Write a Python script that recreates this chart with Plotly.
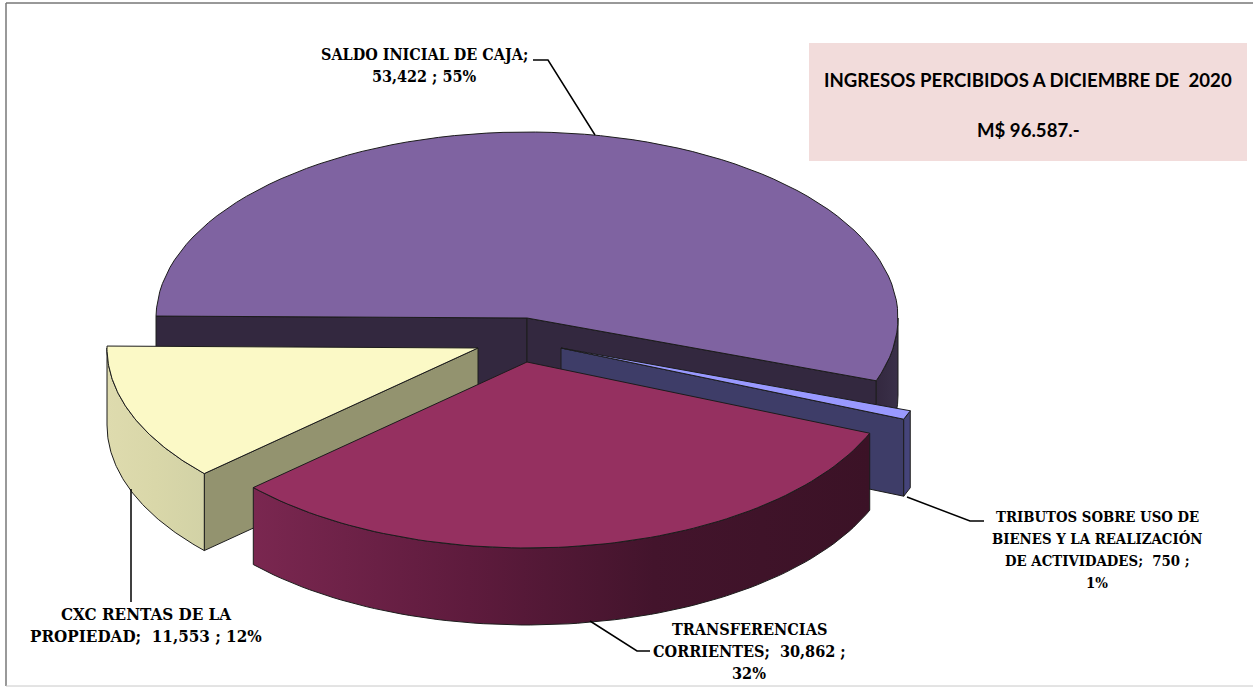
"""Exploded 3D-look pie of 2020 income, drawn as filled polygons on a pixel-sized plot."""

import numpy as np
import plotly.graph_objects as go

WIDTH = 1253
HEIGHT = 687

# chart data
name_lines = [
    ["SALDO INICIAL DE CAJA;"],
    ["TRIBUTOS SOBRE USO DE", "BIENES Y LA REALIZACIÓN", "DE ACTIVIDADES;  "],
    ["TRANSFERENCIAS", "CORRIENTES;  "],
    ["CXC RENTAS DE LA", "PROPIEDAD;  "],
]
values = [53422, 750, 30862, 11553]
pct_on_own_line = [False, True, True, False]
value_on_own_line = [True, False, False, False]
title_lines = ["INGRESOS PERCIBIDOS A DICIEMBRE DE  2020", "M$ 96.587.-"]

# look of each slice
top_colors = ["#7f63a1", "#9999ff", "#953060", "#fbf9c6"]
face_colors = ["#33283f", "#3e3d68", "#3b1226", "#93936f"]
outer_gradients = [
    [[0, "#33283f"], [1, "#3a3049"]],
    [[0, "#45447a"], [1, "#45447a"]],
    [[0, "#7a2750"], [0.35, "#5e1b3d"], [0.65, "#43142c"], [1, "#3b1226"]],
    [[0, "#dedbae"], [0.5, "#d9d7a9"], [1, "#d2d2a6"]],
]
offsets = [(0, 0), (34, 30), (0, 44), (-49, 30)]

CX, CY = 527, 318
RX, RY = 371, 186
DEPTH = 77
START_ANGLE = 179.4
OUTLINE = "#1c1c1c"

# label anchors (centre x, first line y), font sizes and leader elbows
label_pos = [(424, 54), (1097, 516), (749, 629), (146, 614)]
label_sizes = [16.0, 14.8, 16.1, 16.9]
LINE_GAP = 22
leaders = [
    [(595, 135), (548, 60), (533, 60)],
    [(907, 497), (970, 521), (984, 521)],
    [(590, 621), (637, 651), (650, 651)],
    [(131, 489), (131, 602)],
]


def arc(cx, cy, a0, a1, n=80):
    t = np.radians(np.linspace(a0, a1, n))
    return cx + RX * np.cos(t), cy - RY * np.sin(t)


def poly(x, y, color=None, gradient=None, line=OUTLINE):
    kw = {"fillcolor": color} if gradient is None else {
        "fillgradient": {"type": "horizontal", "colorscale": gradient}
    }
    return go.Scatter(
        x=np.r_[x, x[0]],
        y=np.r_[y, y[0]],
        mode="lines",
        fill="toself",
        line={"color": line, "width": 1},
        hoverinfo="skip",
        showlegend=False,
        **kw,
    )


def radial_face(cx, cy, px, py, color):
    return poly(
        np.array([cx, px, px, cx]),
        np.array([cy, py, py + DEPTH, cy + DEPTH]),
        color,
    )


# sweep per slice, clockwise from the start angle
sweeps = 360 * np.array(values) / sum(values)
ends = START_ANGLE - np.cumsum(sweeps)
starts = np.r_[START_ANGLE, ends[:-1]]


def slice_traces(i):
    dx, dy = offsets[i]
    cx, cy = CX + dx, CY + dy
    a0, a1 = starts[i], ends[i]
    ax, ay = arc(cx, cy, a0, a1)
    traces = []
    # cut faces, only those turned towards the viewer
    if np.cos(np.radians(a0)) < 0:
        traces.append(radial_face(cx, cy, ax[0], ay[0], face_colors[i]))
    if np.cos(np.radians(a1)) > 0:
        traces.append(radial_face(cx, cy, ax[-1], ay[-1], face_colors[i]))
    # outer wall, only the part of the rim that faces the viewer
    lo, hi = max(a1, -180), min(a0, 0)
    if hi > lo:
        wx, wy = arc(cx, cy, hi, lo)
        traces.append(
            poly(
                np.r_[wx, wx[::-1]],
                np.r_[wy, wy[::-1] + DEPTH],
                gradient=outer_gradients[i],
            )
        )
    # top
    traces.append(poly(np.r_[cx, ax], np.r_[cy, ay], top_colors[i]))
    return traces


fig = go.Figure()
# back to front: saldo, tributos, cxc, transferencias
for i in [0, 1, 3, 2]:
    for tr in slice_traces(i):
        fig.add_trace(tr)

for line in leaders:
    fig.add_trace(
        go.Scatter(
            x=[p[0] for p in line],
            y=[p[1] for p in line],
            mode="lines",
            line={"color": "#000000", "width": 1.5},
            hoverinfo="skip",
            showlegend=False,
        )
    )

total = sum(values)
annotations = []
for i, val in enumerate(values):
    pct = f"{round(val / total * 100)}%"
    lines = list(name_lines[i])
    if value_on_own_line[i]:
        lines.append(f"{val:,} ; {pct}")
    elif pct_on_own_line[i]:
        lines[-1] += f"{val:,} ;"
        lines.append(pct)
    else:
        lines[-1] += f"{val:,} ; {pct}"
    x, y = label_pos[i]
    for k, text in enumerate(lines):
        annotations.append(
            {
                "x": x,
                "y": y + k * LINE_GAP,
                "xref": "x",
                "yref": "y",
                "text": f"<b>{text}</b>",
                "showarrow": False,
                "font": {"family": "DejaVu Serif Condensed", "size": label_sizes[i], "color": "#000000"},
            }
        )
for text, y in zip(title_lines, [80, 130]):
    annotations.append(
        {
            "x": 1028,
            "y": y,
            "xref": "x",
            "yref": "y",
            "text": f"<b>{text}</b>",
            "showarrow": False,
            "font": {"family": "Lato", "size": 18.6, "color": "#000000"},
        }
    )

shapes = [
    {"type": "rect", "x0": 809, "x1": 1247, "y0": 43, "y1": 161,
     "fillcolor": "#f2dcdb", "line": {"width": 0}, "layer": "below"},
    {"type": "line", "x0": 6, "x1": 1253, "y0": 3, "y1": 3,
     "line": {"color": "#333333", "width": 1}},
    {"type": "line", "x0": 6, "x1": 6, "y0": 3, "y1": 686,
     "line": {"color": "#777777", "width": 1.5}},
    {"type": "line", "x0": 6, "x1": 1253, "y0": 686, "y1": 686,
     "line": {"color": "#c8c8c8", "width": 1}},
]

fig.update_layout(
    width=WIDTH,
    height=HEIGHT,
    margin={"l": 0, "r": 0, "t": 0, "b": 0},
    paper_bgcolor="#ffffff",
    plot_bgcolor="#ffffff",
    xaxis={"range": [0, WIDTH], "visible": False, "fixedrange": True},
    yaxis={"range": [HEIGHT, 0], "visible": False, "fixedrange": True},
    annotations=annotations,
    shapes=shapes,
    showlegend=False,
)
# the page's default body margin would push the picture off by 8 px
fig.write_html(
    "out.html",
    config={"displayModeBar": False},
    post_script="document.body.style.margin='0';document.body.style.overflow='hidden';",
)
